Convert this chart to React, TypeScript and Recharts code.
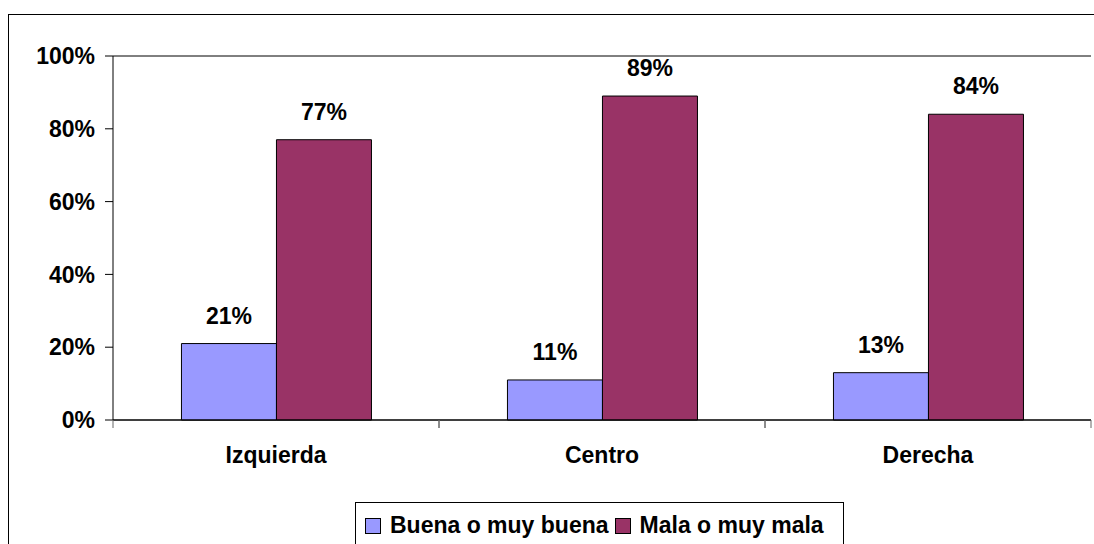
import React from "react";
import {
  BarChart,
  Bar,
  XAxis,
  YAxis,
  CartesianGrid,
  LabelList,
} from "recharts";

// ─── Data ─────────────────────────────────────────────────

const categories = ["Izquierda", "Centro", "Derecha"];
const buena = [21, 11, 13];
const mala = [77, 89, 84];
const yTicks = [0, 20, 40, 60, 80, 100];

const seriesNames = ["Buena o muy buena", "Mala o muy mala"];
const colors = ["#9999FF", "#993366"];

const data = categories.map((name, i) => ({
  name,
  buena: buena[i],
  mala: mala[i],
}));

// ─── Layout ───────────────────────────────────────────────

const W = 1094;
const H = 544;
const FONT = "'Liberation Sans', Arial, sans-serif";
const FS = 23;
const PLOT_LEFT = 113;
const PLOT_RIGHT = 3;
const BAND = (W - PLOT_LEFT - PLOT_RIGHT) / categories.length;

function CategoryTick(props: any) {
  const { x, y, payload } = props;
  // Excel style: tick marks sit at category boundaries, not centres
  const axisY = y - 27;
  return (
    <g>
      <line x1={x - BAND / 2} x2={x - BAND / 2} y1={axisY} y2={axisY + 8} stroke="#666" />
      <line x1={x + BAND / 2} x2={x + BAND / 2} y1={axisY} y2={axisY + 8} stroke="#666" />
      <text
        x={x}
        y={y + 16}
        textAnchor="middle"
        fontFamily={FONT}
        fontWeight="bold"
        fontSize={FS}
        fill="#000"
      >
        {payload.value}
      </text>
    </g>
  );
}

const pct = (v: number) => `${v}%`;
const labelStyle = { fontSize: FS, fontWeight: "bold", fill: "#000", fontFamily: FONT };

export default function App() {
  return (
    <div
      style={{
        position: "absolute",
        left: 0,
        top: 0,
        width: W,
        height: H,
        overflow: "hidden",
        background: "#fff",
        fontFamily: FONT,
      }}
    >
      <div
        style={{
          position: "absolute",
          left: 8,
          top: 14,
          width: W + 20,
          height: H + 20,
          border: "1px solid #000",
        }}
      />
      <div style={{ position: "absolute", left: 0, top: 0 }}>
        <BarChart
          width={W}
          height={H}
          data={data}
          margin={{ top: 56, right: PLOT_RIGHT, left: 0, bottom: 64 }}
          barCategoryGap="21%"
          barGap={0}
        >
          <CartesianGrid vertical={false} stroke="#000" strokeWidth={1} />
          <XAxis
            dataKey="name"
            height={60}
            tickLine={false}
            tickSize={0}
            tickMargin={27}
            axisLine={{ stroke: "#000" }}
            tick={<CategoryTick />}
            interval={0}
          />
          <YAxis
            yAxisId="l"
            width={PLOT_LEFT}
            domain={[0, 100]}
            ticks={yTicks}
            tickFormatter={pct}
            tickSize={8}
            tickMargin={10}
            axisLine={{ stroke: "#000" }}
            tickLine={{ stroke: "#000" }}
            tick={labelStyle}
            interval={0}
          />
          <YAxis
            yAxisId="r"
            orientation="right"
            width={0}
            domain={[0, 100]}
            tick={false}
            tickLine={false}
            axisLine={{ stroke: "#888" }}
          />
          <Bar
            yAxisId="l"
            dataKey="buena"
            name={seriesNames[0]}
            fill={colors[0]}
            stroke="#000"
            strokeWidth={1}
            isAnimationActive={false}
          >
            <LabelList
              dataKey="buena"
              position="top"
              offset={20}
              formatter={(v: any) => pct(v)}
              style={labelStyle}
            />
          </Bar>
          <Bar
            yAxisId="l"
            dataKey="mala"
            name={seriesNames[1]}
            fill={colors[1]}
            stroke="#000"
            strokeWidth={1}
            isAnimationActive={false}
          >
            <LabelList
              dataKey="mala"
              position="top"
              offset={20}
              formatter={(v: any) => pct(v)}
              style={labelStyle}
            />
          </Bar>
        </BarChart>
      </div>
      {/* legend box, clipped at the bottom like the original */}
      <div
        style={{
          position: "absolute",
          left: 355,
          top: 502,
          width: 489,
          height: 60,
          border: "1px solid #000",
          background: "#fff",
          boxSizing: "border-box",
        }}
      >
        <div
          style={{
            display: "flex",
            alignItems: "center",
            marginTop: 9,
            marginLeft: 9,
            fontSize: FS,
            fontWeight: "bold",
            color: "#000",
            whiteSpace: "nowrap",
          }}
        >
          {seriesNames.map((s, i) => (
            <span key={s} style={{ display: "flex", alignItems: "center", marginRight: 6 }}>
              <span
                style={{
                  display: "inline-block",
                  width: 14,
                  height: 14,
                  border: "1px solid #000",
                  background: colors[i],
                  marginRight: 9,
                }}
              />
              {s}
            </span>
          ))}
        </div>
      </div>
    </div>
  );
}
